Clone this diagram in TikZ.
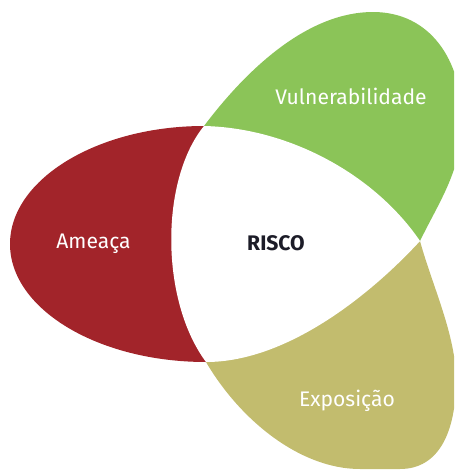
\documentclass[tikz,border=0pt]{standalone}
\usepackage{fontspec}
\setmainfont{Fira Sans}
\usetikzlibrary{positioning}
\definecolor{ameacared}{HTML}{A2242A}
\definecolor{vulngreen}{HTML}{8BC458}
\definecolor{expoolive}{HTML}{C2BC6E}
\definecolor{riscoink}{HTML}{1C1C28}
\tikzstyle{petallabel} = [text=white, anchor=base, inner sep=0pt, font=\fontsize{12}{14}\selectfont]
\tikzstyle{centre} = [text=riscoink, anchor=base, inner sep=0pt, font=\fontsize{12}{14}\selectfont\bfseries]

\begin{document}
\begin{tikzpicture}[x=0.02cm, y=-0.02cm]
    \useasboundingbox (0,0) rectangle (454,470);
    \clip (0,0) rectangle (454,470);
    \coordinate (topv) at (204,126);
    \coordinate (botv) at (206,362);
    \coordinate (rightv) at (420,241);

    % petals
    \fill [ameacared] (topv) .. controls (98,126) and (10,179) .. (10,244) .. controls (10,309) and (98,362) .. (botv) -- cycle;
    \fill [vulngreen] (topv) .. controls (250,65) and (310,12) .. (373,12) .. controls (430,12) and (462,60) .. (462,120) .. controls (462,170) and (440,200) .. (rightv) -- cycle;
    \fill [expoolive] (botv) .. controls (240,420) and (300,469) .. (360,469) -- (400,469) .. controls (440,469) and (456,430) .. (456,380) .. controls (456,335) and (432,285) .. (rightv) -- cycle;

    % centre
    \fill [white] (topv) .. controls (290,128) and (375,175) .. (rightv) .. controls (375,290) and (290,362) .. (botv) .. controls (160,300) and (160,180) .. (topv) -- cycle;

    \node (risco) [centre] at (276,250.5) {RISCO};
    \node (ameaca) [petallabel] at (93.5,248) {Ameaça};
    \node (vuln) [petallabel] at (351,104) {Vulnerabilidade};
    \node (expo) [petallabel] at (347,406.5) {Exposição};
\end{tikzpicture}
\end{document}
